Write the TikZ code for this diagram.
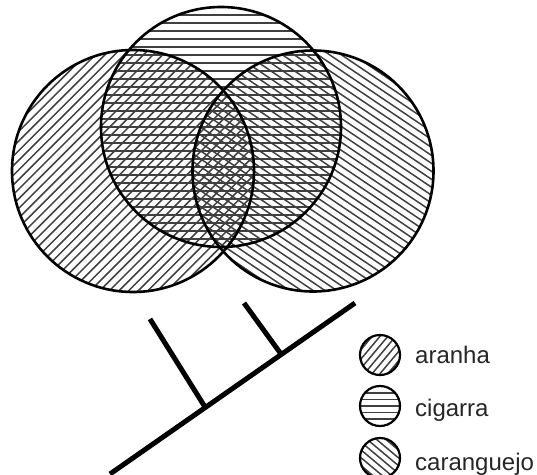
\documentclass[tikz,border=0pt]{standalone}
\usepackage{fontspec}
\setmainfont{Liberation Sans}
\usetikzlibrary{calc}
\begin{document}
\begin{tikzpicture}[x=1pt,y=-1pt,
  outline/.style={draw=black,line width=2.6pt},
  smalloutline/.style={draw=black,line width=2.2pt},
  hatch/.style={draw=black!75,line width=1.5pt},
  branch/.style={draw=black,line width=5pt},
  legtext/.style={anchor=base west,inner sep=0pt,text=black!85,font=\fontsize{24}{28}\selectfont}]
\useasboundingbox (0,0) rectangle (537,474);
% centres
\coordinate (L) at (133,171);
\coordinate (T) at (221,127);
\coordinate (R) at (313,171);
% hatching: aranha (/), cigarra (-), caranguejo (\)
\begin{scope}
  \clip (L) circle (121);
  \foreach \i in {-19,...,19}
    \draw[hatch,rotate around={45:(L)}] ($(L)+(-130,\i*6.8)$) -- ++(260,0);
\end{scope}
\begin{scope}
  \clip (T) circle (120);
  \foreach \i in {-16,...,16}
    \draw[hatch] ($(T)+(-130,\i*8)$) -- ++(260,0);
\end{scope}
\begin{scope}
  \clip (R) circle (120.5);
  \foreach \i in {-19,...,19}
    \draw[hatch,rotate around={-34:(R)}] ($(R)+(-130,\i*6.6)$) -- ++(260,0);
\end{scope}
\draw[outline] (L) circle (121);
\draw[outline] (T) circle (120);
\draw[outline] (R) circle (120.5);
% tree
\coordinate (root) at (110,474);
\coordinate (tip) at (355,303);
\coordinate (a1) at (150,319);
\coordinate (j1) at (205,407);
\coordinate (a2) at (244,303);
\coordinate (j2) at (281,354);
\draw[branch] (root) -- (tip);
\draw[branch] (a1) -- (j1);
\draw[branch] (a2) -- (j2);
% legend
\coordinate (k1) at (380,355);
\coordinate (k2) at (380,406);
\coordinate (k3) at (380,458);
\begin{scope}
  \clip (k1) circle (20);
  \foreach \i in {-4,...,4}
    \draw[hatch,rotate around={50:(k1)}] ($(k1)+(-25,\i*6)$) -- ++(50,0);
\end{scope}
\begin{scope}
  \clip (k2) circle (20);
  \foreach \i in {-3,...,3}
    \draw[hatch] ($(k2)+(-25,\i*6.5)$) -- ++(50,0);
\end{scope}
\begin{scope}
  \clip (k3) circle (20);
  \foreach \i in {-4,...,4}
    \draw[hatch,rotate around={-40:(k3)}] ($(k3)+(-25,\i*6)$) -- ++(50,0);
\end{scope}
\draw[smalloutline] (k1) circle (20);
\draw[smalloutline] (k2) circle (20);
\draw[smalloutline] (k3) circle (20);
\node[legtext] (t1) at (415,363) {aranha};
\node[legtext] (t2) at (415,416) {cigarra};
\node[legtext] (t3) at (415,470) {caranguejo};
\end{tikzpicture}
\end{document}
